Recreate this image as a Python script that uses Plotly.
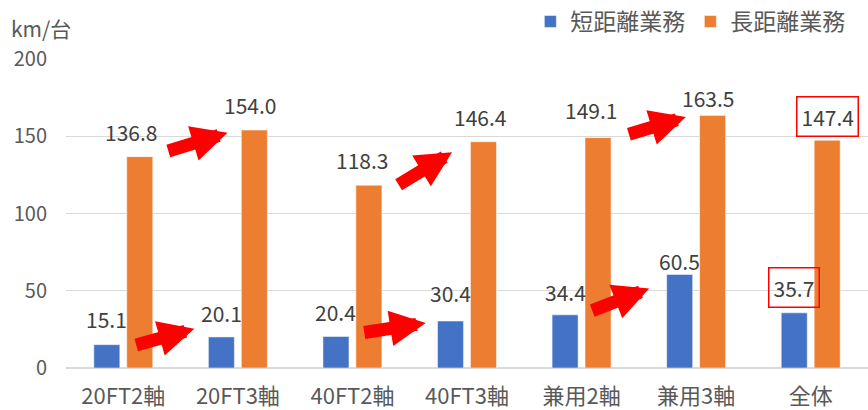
'''
    Grouped bar chart: average daily distance (km/台) by chassis type,
    short-haul vs long-haul work, with red arrows and highlight boxes.
'''

import plotly.graph_objects as go

CATEGORIES = ['20FT2軸', '20FT3軸', '40FT2軸', '40FT3軸', '兼用2軸', '兼用3軸', '全体']
SHORT_HAUL = [15.1, 20.1, 20.4, 30.4, 34.4, 60.5, 35.7]
LONG_HAUL = [136.8, 154.0, 118.3, 146.4, 149.1, 163.5, 147.4]
SERIES_NAMES = ['短距離業務', '長距離業務']
Y_TICKS = [0, 50, 100, 150, 200]

# arrows: (tail category, tail value, tip category, tip value)
ARROWS = [
    (0.38, 140.2, 0.91, 152.2),
    (0.10, 14.6, 0.62, 25.4),
    (2.39, 118.0, 2.87, 139.6),
    (2.09, 22.8, 2.64, 29.2),
    (4.40, 151.0, 4.91, 162.4),
    (4.08, 36.8, 4.59, 51.4),
]
BOXED = 6  # index of the highlighted category

# hand-placed label offsets (px) as in the original
SHORT_LABEL_UP = [26, 24, 24, 28, 23, 14, 25]
LONG_LABEL_UP = [25, 25, 25, 25, 28, 17, 24]
LONG_LABEL_DX = [-9, -4, -7, -4, -7, -5, 0]

BLUE = '#4472C4'
ORANGE = '#ED7D31'
TEXT = '#595959'
GRID = '#D9D9D9'
FONT = 'Noto Sans CJK JP'

fig = go.Figure()
fig.add_trace(go.Bar(x=CATEGORIES, y=SHORT_HAUL, name=SERIES_NAMES[0], marker_color=BLUE))
fig.add_trace(go.Bar(x=CATEGORIES, y=LONG_HAUL, name=SERIES_NAMES[1], marker_color=ORANGE))

annotations = []
for i, cat in enumerate(CATEGORIES):
    for values, up, dx, bar_shift in (
        (SHORT_HAUL, SHORT_LABEL_UP[i], 0, -16.5),
        (LONG_HAUL, LONG_LABEL_UP[i], LONG_LABEL_DX[i], 16.5),
    ):
        boxed = i == BOXED
        annotations.append(dict(
            x=i, y=values[i], xref='x', yref='y',
            text=f'{values[i]:.1f}', showarrow=False,
            xshift=bar_shift + dx, yshift=up,
            font=dict(size=21, color='#404040', family=FONT),
            bordercolor='#FF0000' if boxed else 'rgba(0,0,0,0)',
            borderwidth=1.5 if boxed else 0, borderpad=4,
        ))

for x0, y0, x1, y1 in ARROWS:
    annotations.append(dict(
        x=x1, y=y1, ax=x0, ay=y0, xref='x', yref='y', axref='x', ayref='y',
        text='', showarrow=True, arrowhead=2, arrowwidth=13, arrowsize=0.55,
        arrowcolor='#FF0000', standoff=0,
    ))

annotations.append(dict(
    x=0, y=1, xref='paper', yref='paper', xanchor='left', yanchor='middle',
    xshift=-57, yshift=31, text='km/台', showarrow=False,
    font=dict(size=21, color=TEXT, family=FONT),
))

fig.update_layout(
    template='simple_white',
    width=868, height=410,
    margin=dict(l=66, r=0, t=53, b=42),
    barmode='group', bargap=0.425, bargroupgap=0.21,
    font=dict(family=FONT, color=TEXT, size=20),
    showlegend=True,
    legend=dict(
        orientation='h', x=0.978, xanchor='right', y=1.0, yanchor='top',
        yref='container', font=dict(size=23, color=TEXT, family=FONT),
        itemwidth=30, traceorder='normal',
    ),
    annotations=annotations,
    dragmode=False,
)
fig.update_xaxes(showline=False, ticks='', ticklabelstandoff=13,
                 tickfont=dict(size=22, color=TEXT))
fig.update_yaxes(
    range=[0, 200], tickvals=Y_TICKS, showline=False, ticks='',
    showgrid=True, gridcolor=GRID, gridwidth=1,
    zeroline=True, zerolinecolor=GRID, zerolinewidth=1.5,
    ticklabelstandoff=18, tickfont=dict(size=20, color=TEXT),
)

# the page's default body margin would push the figure 8px off its place
fig.write_html('out.html', config={'displayModeBar': False},
               post_script="document.body.style.margin='0';")
